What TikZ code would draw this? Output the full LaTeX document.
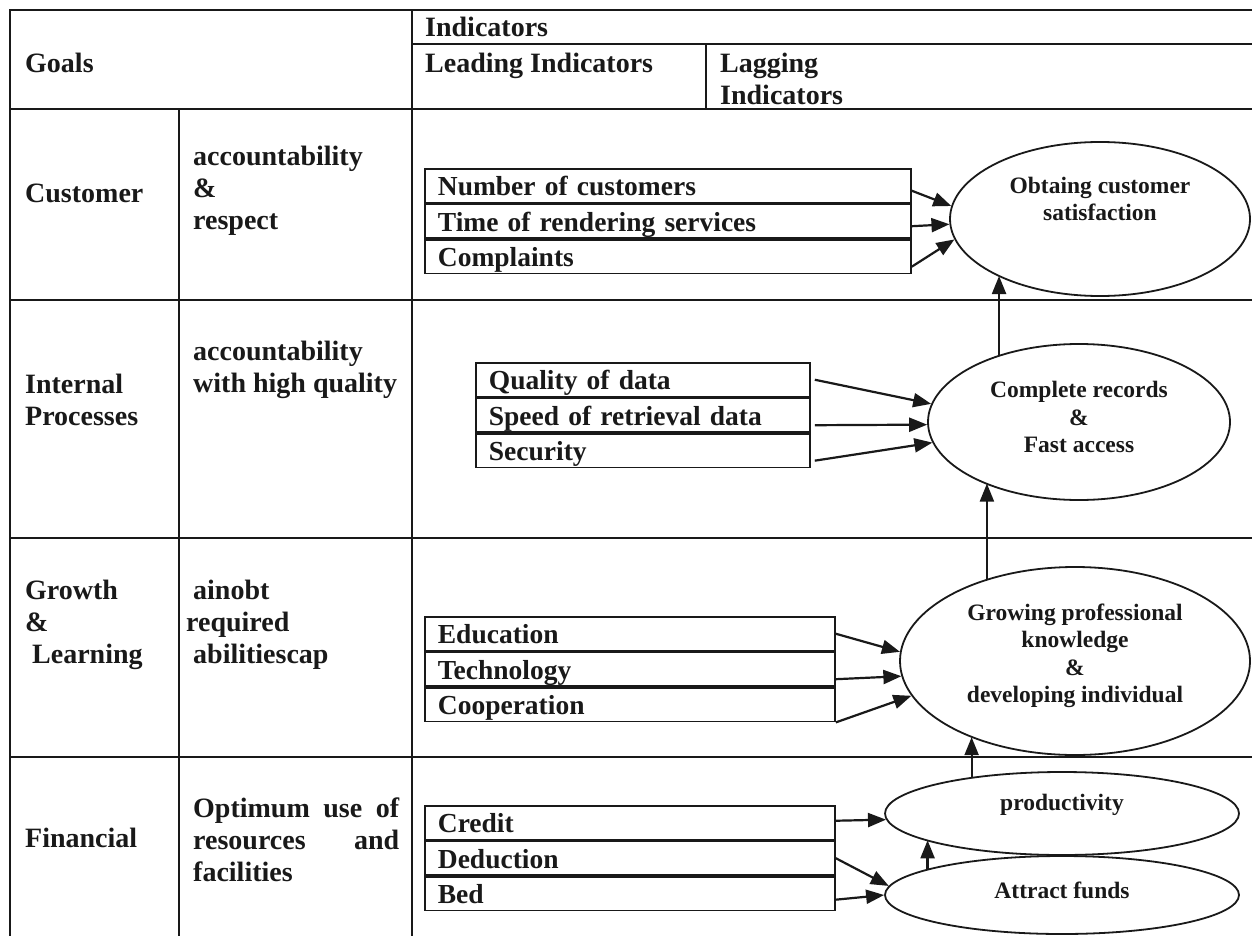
\documentclass[tikz,border=0pt]{standalone}
\usepackage{fontspec}
\setmainfont{Liberation Serif}
\usetikzlibrary{arrows.meta,shapes.geometric,calc}
\definecolor{ink}{RGB}{25,25,25}
\begin{document}
\begin{tikzpicture}[x=1pt,y=-1pt,
  rule/.style={draw=ink,line width=2pt},
  lbl/.style={inner sep=0pt,anchor=west,align=left,font=\fontsize{28}{32}\selectfont\bfseries,text=ink},
  cell/.style={draw=ink,line width=1.8pt,rectangle,anchor=north west,minimum height=33.67pt,
    inner xsep=13pt,inner ysep=0pt,text height=22.5pt,text depth=2.5pt,align=left,
    font=\fontsize{27.5}{30}\selectfont\bfseries,text=ink},
  ell/.style={draw=ink,line width=1.8pt,ellipse,inner sep=0pt},
  etxt/.style={inner sep=0pt,align=center,font=\fontsize{23.5}{27.5}\selectfont\bfseries,text=ink},
  arr/.style={draw=ink,line width=2.2pt,-{Triangle[length=18pt,width=14pt]}}
]
\useasboundingbox (0,0) rectangle (1252,936);
\fill[white] (0,0) rectangle (1252,936);

% table rules
\draw[rule] (1252,10) -- (10,10) -- (10,936);
\draw[rule] (412,10) -- (412,936);
\draw[rule] (412,44) -- (1252,44);
\draw[rule] (706,44) -- (706,109);
\draw[rule] (10,109) -- (1252,109);
\draw[rule] (179,109) -- (179,936);
\draw[rule] (10,300) -- (1252,300);
\draw[rule] (10,538) -- (1252,538);
\draw[rule] (10,757) -- (1252,757);

% header
\node[lbl] (goals) at (25,63) {Goals};
\node[lbl] (ind) at (425,27) {Indicators};
\node[lbl] (lead) at (425,66) {Leading Indicators};
\node[lbl] (lag) at (720,79) {Lagging\\Indicators};

% goal columns
\node[lbl] (cust) at (25,193) {Customer};
\node[lbl] (custG) at (193,191) {accountability\\\&\\respect};
\node[lbl] (intl) at (25,400) {Internal\\Processes};
\node[lbl] (intlG) at (193,370) {accountability\\with high quality};
\node[lbl] (grw) at (25,625) {Growth\\\&\\\hspace*{7pt}Learning};
\node[lbl] (grwG) at (186,625) {\hspace*{7pt}ainobt\\required\\\hspace*{7pt}abilitiescap};
\node[lbl] (fin) at (25,838) {Financial};
\node[lbl] (finG) at (193,840) {\makebox[206pt][s]{Optimum use of}\\\makebox[206pt][s]{resources and}\\facilities};

% leading indicator boxes
\node[cell,text width=460pt] (c1) at (424,168) {Number of customers};
\node[cell,text width=460pt] (c2) at (c1.south west) {Time of rendering services};
\node[cell,text width=460pt] (c3) at (c2.south west) {Complaints};

\node[cell,text width=308pt] (i1) at (475,362) {Quality of data};
\node[cell,text width=308pt] (i2) at (i1.south west) {Speed of retrieval data};
\node[cell,text width=308pt] (i3) at (i2.south west) {Security};

\node[cell,text width=384pt] (g1) at (424,616) {Education};
\node[cell,text width=384pt] (g2) at (g1.south west) {Technology};
\node[cell,text width=384pt] (g3) at (g2.south west) {Cooperation};

\node[cell,text width=384pt] (f1) at (424,805) {Credit};
\node[cell,text width=384pt] (f2) at (f1.south west) {Deduction};
\node[cell,text width=384pt] (f3) at (f2.south west) {Bed};

% lagging indicator ellipses
\node[ell,minimum width=300pt,minimum height=154pt] (sat) at (1100,219) {};
\node[ell,minimum width=302pt,minimum height=156pt] (rec) at (1079,422) {};
\node[ell,minimum width=350pt,minimum height=188pt] (grow) at (1075,661) {};
\node[ell,minimum width=354pt,minimum height=83pt] (prod) at (1062,813.5) {};
\node[ell,minimum width=354pt,minimum height=78pt] (fund) at (1062,895) {};

\node[etxt] (satT) at (1100,199) {Obtaing customer\\satisfaction};
\node[etxt] (recT) at (1079,417) {Complete records\\\&\\Fast access};
\node[etxt] (growT) at (1075,656) {Growing professional\\knowledge\\\&\\developing individual};
\node[etxt] (prodT) at (1062,805) {productivity};
\node[etxt] (fundT) at (1062,890) {Attract funds};

% indicator arrows
\draw[arr] ([yshift=-5pt]c1.east) -- (sat.175.5);
\draw[arr] ([yshift=-5pt]c2.east) -- (sat.182);
\draw[arr] ([yshift=-10pt]c3.east) -- (sat.188);

\draw[arr] ([xshift=4pt]i1.east) -- (rec.173.6);
\draw[arr] ([xshift=4pt,yshift=-10pt]i2.east) -- (rec.181);
\draw[arr] ([xshift=4pt,yshift=-10pt]i3.east) -- (rec.188.2);

\draw[arr] (g1.east) -- (grow.177.4);
\draw[arr] ([yshift=-10pt]g2.east) -- (grow.185.5);
\draw[arr] (g3.south east) -- (grow.192.4);

\draw[arr] ([yshift=2pt]f1.east) -- (prod.182.1);
\draw[arr] (f2.east) -- (fund.177.4);
\draw[arr] ([yshift=-6pt]f3.east) -- (fund.180);

% links between lagging indicators
\draw[arr] (rec.140.5) -- (rec.140.5 |- sat.209.4);
\draw[arr] (grow.137.7) -- (grow.137.7 |- rec.213.5);
\draw[arr] (prod.158.4) -- (prod.158.4 |- grow.216.4);
\draw[arr] (fund.169.2) -- (fund.169.2 |- prod.191.4);
\end{tikzpicture}
\end{document}
